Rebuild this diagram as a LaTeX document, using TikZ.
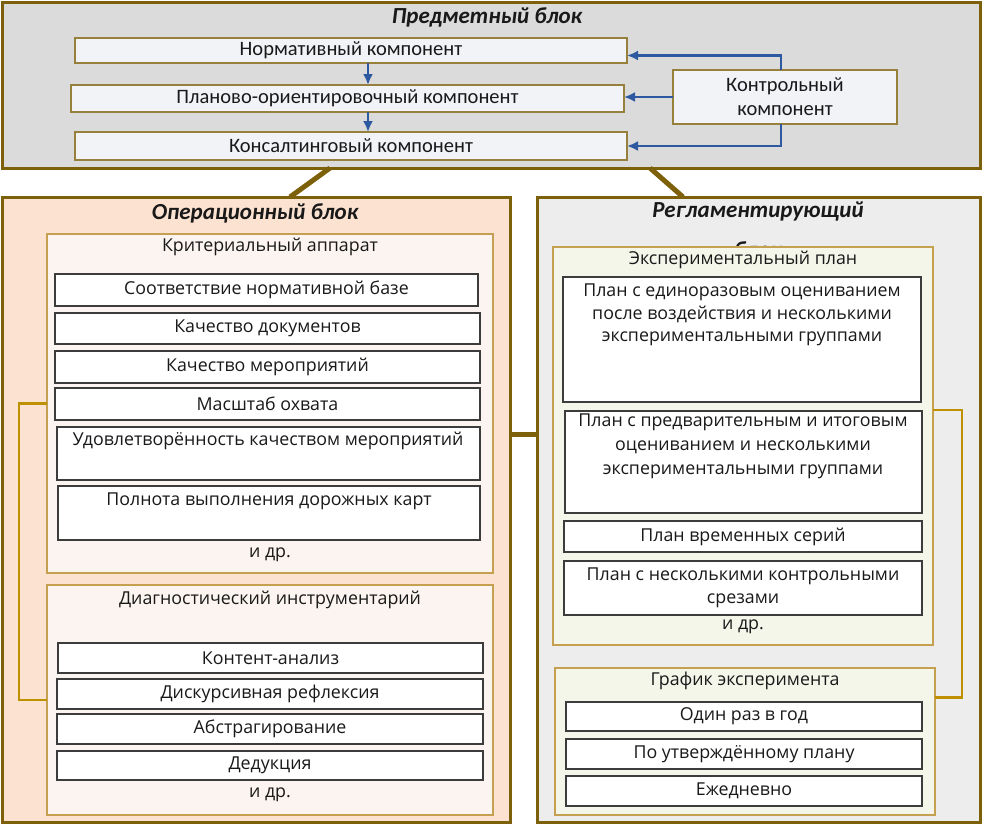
\documentclass[tikz,border=0pt]{standalone}
\usepackage{fontspec}
\setmainfont{Open Sans}
\newfontfamily\calfont{Carlito}
\usetikzlibrary{arrows.meta}
\definecolor{olive}{RGB}{125,96,10}
\definecolor{goldb}{RGB}{191,144,0}
\definecolor{goldl}{RGB}{196,160,80}
\definecolor{topgray}{RGB}{219,219,219}
\definecolor{topfill}{RGB}{241,243,247}
\definecolor{blueA}{RGB}{46,89,160}
\definecolor{peach}{RGB}{252,226,208}
\definecolor{pinkf}{RGB}{252,244,240}
\definecolor{regf}{RGB}{237,237,237}
\definecolor{greenf}{RGB}{244,246,234}
\definecolor{dgray}{RGB}{60,60,60}
\definecolor{txtc}{RGB}{25,25,25}
% box: name, x1, y1, x2, y2, style, text
\newcommand\bx[7]{\node[#6, anchor=north west, minimum width={#4-#2}, minimum height={#5-#3}] (#1) at (#2,#3) {#7};}
\begin{document}
\begin{tikzpicture}[x=1pt,y=-1pt,
  block/.style={draw=olive, line width=3pt, inner sep=0pt, outer sep=0pt},
  topbox/.style={draw=olive!80, fill=topfill, line width=1.2pt, inner sep=0pt, outer sep=0pt, text=txtc,
    font=\calfont\fontsize{20.5}{24}\selectfont, align=center},
  wbox/.style={draw=dgray, fill=white, line width=1.5pt, inner sep=0pt, outer sep=0pt, text=txtc,
    font=\fontsize{17.8}{23}\selectfont, align=center},
  grp/.style={draw=goldl, line width=1.5pt, inner sep=0pt, outer sep=0pt},
  txt/.style={inner sep=0pt, align=center, text=txtc, font=\fontsize{17.8}{23}\selectfont},
  ttl/.style={inner sep=0pt, align=center, text=txtc, font=\calfont\bfseries\itshape\fontsize{23}{28}\selectfont},
  conn/.style={draw=olive, line width=5pt},
  arr/.style={draw=blueA, line width=2.3pt, -{Latex[length=11pt,width=10pt]}},
  brk/.style={draw=goldb, line width=2.5pt}
]
\useasboundingbox (0,0) rectangle (982,825);
\fill[white] (0,0) rectangle (982,825);

% top block
\bx{top}{2}{2}{980}{168}{block, fill=topgray}{}
\node[ttl] (toptitle) at (487,17) {Предметный блок};
\bx{norm}{75}{38}{627}{63}{topbox}{Нормативный компонент}
\bx{plan}{71}{85}{624}{112}{topbox}{Планово-ориентировочный компонент}
\bx{kons}{75}{132}{627}{160}{topbox}{Консалтинговый компонент}
\bx{ctrl}{673}{70}{897}{124}{topbox}{Контрольный\\компонент}
\draw[arr] ([xshift=-4pt]ctrl.north) |- ([yshift=-5pt]norm.east);
\draw[arr] (ctrl.west) -- (ctrl.west -| plan.east);
\draw[arr] ([xshift=-4pt]ctrl.south) |- (kons.east);
\draw[arr] ([xshift=17pt]norm.south) -- ([xshift=17pt]norm.south |- plan.north);
\draw[arr] ([xshift=17pt]norm.south |- plan.south) -- ([xshift=17pt]norm.south |- kons.north);

% operational block
\bx{op}{2}{197}{510}{822}{block, fill=peach}{}
\node[ttl] (optitle) at (255,213) {Операционный блок};
\bx{krit}{47}{234}{493}{573}{grp, fill=pinkf}{}
\node[txt] (krittitle) at (270,247) {Критериальный аппарат};
\bx{k1}{55}{274}{478}{306}{wbox}{Соответствие нормативной базе}
\bx{k2}{55}{313}{480}{344}{wbox}{Качество документов}
\bx{k3}{55}{351}{480}{383}{wbox}{Качество мероприятий}
\bx{k4}{55}{388}{480}{420}{wbox}{Масштаб охвата}
\bx{k5}{57}{427}{480}{480}{wbox}{}
\node[txt] (k5t) at (268,441) {Удовлетворённость качеством мероприятий};
\bx{k6}{58}{486}{480}{540}{wbox}{}
\node[txt] (k6t) at (269,501) {Полнота выполнения дорожных карт};
\node[txt] (kdr) at (270,555) {и др.};
\bx{diag}{47}{585}{493}{815}{grp, fill=pinkf}{}
\node[txt] (diagtitle) at (270,600) {Диагностический инструментарий};
\bx{d1}{58}{643}{483}{673}{wbox}{Контент-анализ}
\bx{d2}{57}{679}{483}{709}{wbox}{Дискурсивная рефлексия}
\bx{d3}{57}{714}{483}{744}{wbox}{Абстрагирование}
\bx{d4}{57}{751}{483}{780}{wbox}{Дедукция}
\node[txt] (ddr) at (270,795) {и др.};
\draw[brk] (krit.west) -- ++(-28,0) |- (diag.west);

% regulating block
\bx{reg}{537}{197}{980}{822}{block, fill=regf}{}
\node[ttl, anchor=north] (regtitle) at (758,202) {Регламентирующий\\[12pt]блок};
\bx{exp}{553}{247}{933}{645}{grp, fill=greenf}{}
\node[txt] (exptitle) at (743,260) {Экспериментальный план};
\bx{e1}{563}{277}{921}{402}{wbox}{}
\node[txt, anchor=north, font=\fontsize{17.8}{22.5}\selectfont] (e1t) at (742,284) {План с единоразовым оцениванием\\после воздействия и несколькими\\экспериментальными группами};
\bx{e2}{565}{411}{922}{513}{wbox}{}
\node[txt, anchor=north, font=\fontsize{17.8}{24}\selectfont] (e2t) at (743,414) {План с предварительным и итоговым\\оцениванием и несколькими\\экспериментальными группами};
\bx{e3}{564}{521}{922}{552}{wbox}{План временных серий}
\bx{e4}{564}{561}{922}{615}{wbox, font=\fontsize{17.8}{23}\selectfont}{План с несколькими контрольными\\срезами}
\node[txt] (edr) at (743,627) {и др.};
\bx{graf}{555}{668}{935}{815}{grp, fill=greenf}{}
\node[txt] (graftitle) at (745,681) {График эксперимента};
\bx{g1}{566}{702}{922}{731}{wbox}{Один раз в год}
\bx{g2}{566}{739}{922}{769}{wbox}{По утверждённому плану}
\bx{g3}{566}{776}{922}{806}{wbox}{Ежедневно}
\draw[brk] ([yshift=36pt]exp.east) -- ++(29,0) |- ([yshift=44pt]graf.east);

% connectors between blocks
\draw[conn] ([xshift=328pt]top.south west) -- ([xshift=288pt]op.north west);
\draw[conn] ([xshift=648pt]top.south west) -- ([xshift=146pt]reg.north west);
\draw[conn] ([yshift=75pt]op.east) -- ([yshift=75pt]reg.west);
\end{tikzpicture}
\end{document}
